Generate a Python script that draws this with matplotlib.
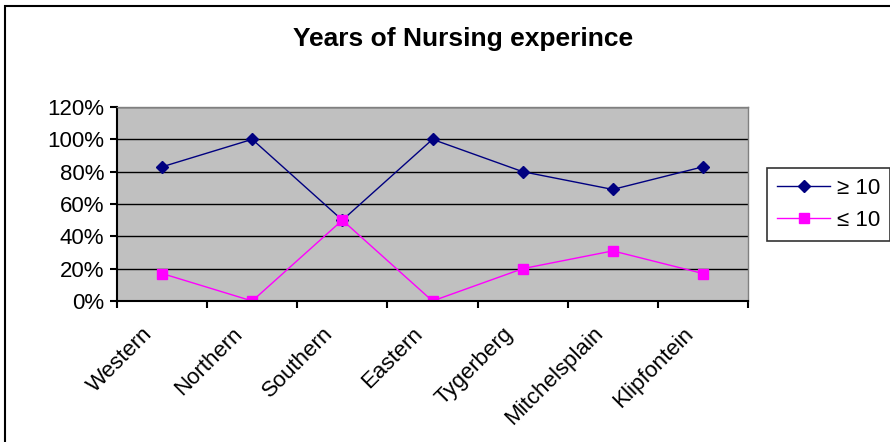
import matplotlib.pyplot as plt
from matplotlib.patches import Rectangle
from matplotlib.ticker import FuncFormatter, FixedLocator
from matplotlib.transforms import ScaledTranslation

plt.rcParams['font.family'] = ['Liberation Sans', 'DejaVu Sans']

regions = ['Western', 'Northern', 'Southern', 'Eastern', 'Tygerberg', 'Mitchelsplain', 'Klipfontein']
over_10 = [83, 100, 50, 100, 80, 69, 83]
under_10 = [17, 0, 50, 0, 20, 31, 17]
series_labels = ['\u2265 10', '\u2264 10']

fig = plt.figure(figsize=(8.9, 4.42), dpi=100)
ax = fig.add_axes([117 / 890, 1 - 301 / 442, 631 / 890, 194 / 442])
ax.set_facecolor('#C0C0C0')

x = list(range(len(regions)))
ax.plot(x, over_10, color='#000080', marker='D', markersize=6.5, linewidth=1, label=series_labels[0])
ax.plot(x, under_10, color='#FF00FF', marker='s', markersize=7.5, linewidth=1, label=series_labels[1])

ax.set_xlim(-0.5, len(regions) - 0.5)
ax.set_ylim(0, 120)
ax.set_yticks(range(0, 121, 20))
ax.yaxis.set_major_formatter(FuncFormatter(lambda v, p: f'{int(v)}%'))
ax.grid(axis='y', color='black', linewidth=1)
ax.set_axisbelow(True)

ax.set_xticks(x)
ax.set_xticklabels(regions, rotation=45, ha='right', rotation_mode='anchor')
ax.xaxis.set_minor_locator(FixedLocator([i - 0.5 for i in range(len(regions) + 1)]))
ax.tick_params(axis='x', which='major', length=0, pad=16, labelsize=16)
ax.tick_params(axis='x', which='minor', length=5, width=1.5, direction='out')
ax.tick_params(axis='y', length=5, width=1.5, labelsize=16, pad=4)

# nudge category labels left, like the original
shift = ScaledTranslation(-0.2, 0, fig.dpi_scale_trans)
for lbl in ax.get_xticklabels():
    lbl.set_transform(lbl.get_transform() + shift)

for s in ['top', 'right']:
    ax.spines[s].set_color('#808080')
    ax.spines[s].set_linewidth(1)
for s in ['left', 'bottom']:
    ax.spines[s].set_color('black')
    ax.spines[s].set_linewidth(1.5)

fig.text(463 / 890, 1 - 39 / 442, 'Years of Nursing experince', ha='center', va='center',
         fontsize=19, fontweight='bold')

leg = ax.legend(loc='upper left', bbox_to_anchor=(767 / 890, 1 - 168 / 442),
                bbox_transform=fig.transFigure, fontsize=16, frameon=True, fancybox=False,
                edgecolor='black', handlelength=2.4, borderpad=0.45, labelspacing=0.5,
                handletextpad=0.3, borderaxespad=0)
leg.get_frame().set_linewidth(1.2)

# chart area border
fig.patches.append(Rectangle((5 / 890, -0.1), 1.2, 1 - 6 / 442 + 0.1, transform=fig.transFigure,
                             fill=False, edgecolor='black', linewidth=1.5))

fig.savefig('out.png', dpi=100)
